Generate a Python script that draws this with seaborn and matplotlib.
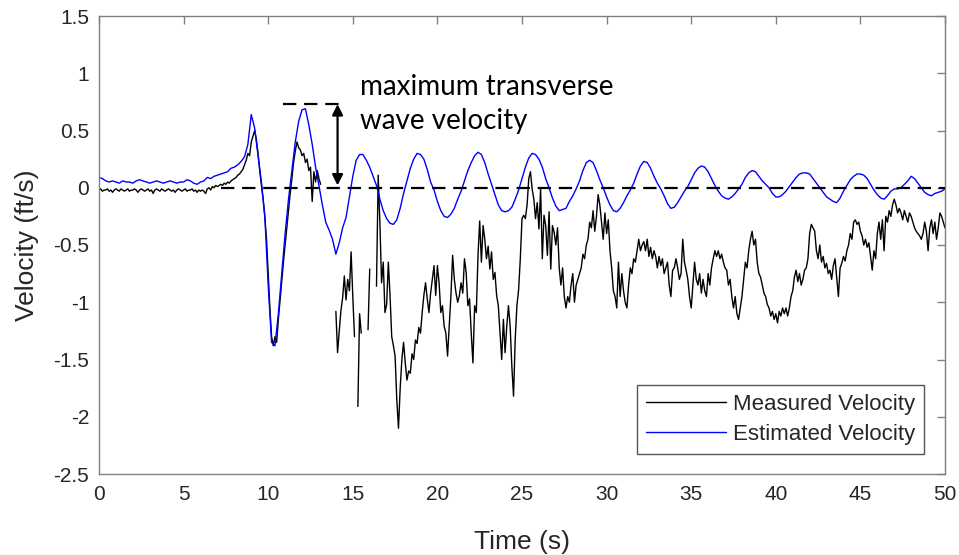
import numpy as np
import pandas as pd
import matplotlib
matplotlib.use("Agg")
import matplotlib.pyplot as plt
from matplotlib.lines import Line2D
import seaborn as sns

# ---- data -------------------------------------------------------------
# Measured velocity, sampled every 0.1 s from t = 0 to 50 s (NaN = dropout)
meas_dt = 0.1
meas_v = [
    -0.02, -0.01, -0.03, -0.02, -0.02, -0.01, -0.03, -0.02, -0.04, -0.02,
    -0.01, -0.02, -0.03, -0.01, -0.02, -0.03, -0.02, -0.01, -0.03, -0.02,
    -0.02, -0.01, -0.02, -0.04, -0.02, -0.01, -0.02, -0.03, -0.02, -0.01,
    -0.03, -0.02, -0.05, -0.02, -0.01, -0.02, -0.03, -0.01, -0.02, -0.03,
    -0.02, -0.01, -0.02, -0.03, -0.02, -0.04, -0.02, -0.01, -0.02, -0.03,
    -0.02, -0.01, -0.03, -0.02, -0.02, -0.01, -0.03, -0.02, -0.04, -0.02,
    -0.03,
    -0.02, -0.03, -0.05, -0.01, 0.00, -0.02, 0.01, 0.00, 0.02, 0.01,
    0.02, 0.03, 0.02, 0.04, 0.03, 0.05, 0.04, 0.06, 0.07, 0.08,
    0.09, 0.11, 0.12, 0.14, 0.16, 0.20, 0.24, 0.30, 0.28, 0.40,
    0.45, 0.50, 0.42, 0.30, 0.15, 0.02, -0.10, -0.25, -0.45, -0.75,
    -1.05, -1.30, -1.38, -1.30, -1.35, -1.15, -0.98, -0.80, -0.65, -0.50,
    -0.35, -0.20, -0.05, 0.08, 0.22, 0.32, 0.40, 0.35, 0.33, 0.28,
    0.30, 0.22, 0.25, 0.15, 0.18, -0.12, 0.14, 0.05, 0.15, 0.08,
    0.03,
    np.nan, np.nan, np.nan, np.nan, np.nan, np.nan, np.nan, np.nan,
    -1.08, -1.44, -1.25, -1.07, -0.96, -0.77, -0.98, -0.80, -0.90, -0.56, -0.95,
    -1.30, np.nan, -1.91, -1.10, -1.27, np.nan, np.nan, np.nan, -1.24, -0.71,
    np.nan, np.nan, np.nan, -0.86, 0.11, -0.30, -0.83, -0.65, -1.09, -1.02,
    -0.65, -0.94, -1.30, -1.38, -1.47, -1.85, -2.10, -1.75, -1.50, -1.35,
    -1.53, -1.68, -1.60, -1.62, -1.45, -1.50, -1.33, -1.36, -1.22, -1.27,
    -1.09, -0.94, -0.83, -0.97, -1.09, -0.92, -0.80, -0.68, -0.94, -0.68,
    -0.83, -1.09, -1.03, -1.21, -1.27, -1.47, -1.21, -0.94, -0.59, -0.80,
    -0.92, -1.00, -0.94, -0.83, -0.92, -0.62, -0.74, -1.03, -0.97, -1.27,
    -1.53, -1.03, -1.09, -0.59, -0.29, -0.65, -0.33, -0.45, -0.62, -0.51,
    -0.71, -0.56, -0.80, -0.74, -0.94, -1.03, -1.27, -1.50, -1.15, -1.44,
    -1.21, -1.03, -1.21, -1.56, -1.82, -1.32, -1.03, -0.89, -0.62, -0.27,
    -0.24, -0.27, -0.15, 0.08, 0.14, -0.01, -0.10, -0.27, -0.13, -0.36,
    -0.01, -0.62, -0.24, -0.33, -0.59, -0.21, -0.71, -0.33, -0.39, -0.50,
    -0.35, -0.70, -0.85, -0.70, -0.95, -1.05, -0.95, -1.00, -0.85, -0.75,
    -1.00, -0.85, -0.80, -0.75, -0.70, -0.58, -0.62, -0.50, -0.45, -0.30,
    -0.35, -0.20, -0.38, -0.25, -0.06, -0.15, -0.30, -0.45, -0.22, -0.40,
    -0.28, -0.55, -0.70, -0.90, -0.95, -1.05, -0.65, -0.95, -0.75, -0.90,
    -1.00, -1.05, -0.85, -0.70, -0.75, -0.62, -0.65, -0.55, -0.45, -0.55,
    -0.50, -0.47, -0.55, -0.45, -0.60, -0.52, -0.62, -0.55, -0.60, -0.70,
    -0.60, -0.68, -0.62, -0.75, -0.70, -0.65, -0.85, -0.95, -0.72, -0.70,
    -0.62, -0.70, -0.80, -0.75, -0.45, -0.65, -0.72, -0.80, -0.95, -1.05,
    -0.85, -0.65, -0.80, -0.85, -0.75, -0.92, -0.80, -0.90, -0.95, -0.75,
    -0.85, -0.70, -0.62, -0.55, -0.60, -0.55, -0.62, -0.58, -0.65, -0.70,
    -0.72, -0.85, -0.80, -0.95, -1.05, -0.95, -1.10, -1.15, -1.05, -0.95,
    -0.80, -0.65, -0.70, -0.55, -0.45, -0.38, -0.50, -0.45, -0.65, -0.75,
    -0.78, -0.85, -0.92, -0.95, -1.02, -1.05, -1.12, -1.08, -1.15, -1.10,
    -1.18, -1.08, -1.12, -1.05, -1.10, -1.05, -1.12, -1.05, -0.95, -0.90,
    -0.78, -0.72, -0.82, -0.75, -0.85, -0.80, -0.72, -0.70, -0.62, -0.40,
    -0.32, -0.35, -0.38, -0.55, -0.62, -0.50, -0.65, -0.60, -0.70, -0.66,
    -0.75, -0.72, -0.80, -0.68, -0.62, -0.78, -0.95, -0.70, -0.66, -0.60,
    -0.64, -0.55, -0.50, -0.40, -0.45, -0.30, -0.28, -0.32, -0.30, -0.38,
    -0.42, -0.50, -0.45, -0.52, -0.48, -0.60, -0.72, -0.55, -0.62, -0.40,
    -0.30, -0.45, -0.28, -0.55, -0.25, -0.30, -0.20, -0.25, -0.15, -0.10,
    -0.15, -0.22, -0.18, -0.22, -0.28, -0.20, -0.25, -0.30, -0.22, -0.25,
    -0.30, -0.35, -0.38, -0.40, -0.42, -0.45, -0.40, -0.30, -0.38, -0.55,
    -0.35, -0.28, -0.40, -0.30, -0.45, -0.35, -0.22, -0.25, -0.30, -0.35,
]

# Estimated velocity, sampled every 0.2 s from t = 0 to 50 s
est_dt = 0.2
est_v = [
    0.09, 0.08, 0.06, 0.05, 0.06, 0.05, 0.04, 0.06, 0.05, 0.05,
    0.04, 0.06, 0.07, 0.06, 0.05, 0.04, 0.05, 0.06, 0.05, 0.04,
    0.05, 0.06, 0.05, 0.04, 0.05, 0.05, 0.07, 0.06, 0.04, 0.03,
    0.05, 0.06, 0.09, 0.08, 0.10, 0.11, 0.12, 0.13, 0.14, 0.17,
    0.18, 0.20, 0.23, 0.27, 0.38, 0.64, 0.52, 0.28, 0.05, -0.25,
    -0.85, -1.35, -1.38, -1.10, -0.75, -0.40, -0.10, 0.15, 0.40, 0.58,
    0.68, 0.69, 0.55, 0.38, 0.18, 0.02, -0.15, -0.30, -0.37, -0.45,
    -0.58, -0.48, -0.35, -0.26, -0.08, 0.10, 0.24, 0.29, 0.29, 0.24,
    0.18, 0.10, 0.02, -0.10, -0.20, -0.27, -0.31, -0.32, -0.28, -0.18,
    -0.05, 0.06, 0.17, 0.25, 0.30, 0.29, 0.25, 0.16, 0.05, -0.02,
    -0.12, -0.20, -0.25, -0.26, -0.23, -0.18, -0.10, -0.03, 0.06, 0.15,
    0.22, 0.28, 0.31, 0.29, 0.22, 0.12, 0.03, -0.06, -0.15, -0.20,
    -0.21, -0.20, -0.17, -0.10, -0.02, 0.08, 0.18, 0.26, 0.30, 0.29,
    0.25, 0.18, 0.08, 0.00, -0.09, -0.16, -0.20, -0.19, -0.18, -0.12,
    -0.07, -0.01, 0.06, 0.15, 0.22, 0.24, 0.22, 0.15, 0.07, 0.00,
    -0.08, -0.15, -0.20, -0.21, -0.18, -0.13, -0.07, -0.02, 0.04, 0.12,
    0.19, 0.23, 0.22, 0.17, 0.10, 0.04, -0.01, -0.07, -0.14, -0.18,
    -0.17, -0.13, -0.08, -0.03, 0.01, 0.07, 0.13, 0.17, 0.19, 0.18,
    0.14, 0.08, 0.02, -0.03, -0.07, -0.09, -0.10, -0.08, -0.05, -0.01,
    0.03, 0.09, 0.13, 0.15, 0.14, 0.10, 0.06, 0.03, 0.00, -0.05,
    -0.08, -0.08, -0.06, -0.03, 0.01, 0.05, 0.09, 0.12, 0.13, 0.13,
    0.12, 0.08, 0.04, 0.00, -0.04, -0.08, -0.10, -0.12, -0.13, -0.09,
    -0.03, 0.02, 0.07, 0.10, 0.12, 0.12, 0.11, 0.08, 0.03, -0.02,
    -0.06, -0.09, -0.10, -0.07, -0.03, -0.01, -0.01, 0.00, 0.03, 0.06,
    0.10, 0.08, 0.04, 0.00, -0.04, -0.06, -0.07, -0.05, -0.04, -0.03,
    -0.01,
]

series_labels = ["Measured Velocity", "Estimated Velocity"]
series_colors = ["black", "#0000ff"]
x_ticks = [0, 5, 10, 15, 20, 25, 30, 35, 40, 45, 50]
y_ticks = [-2.5, -2, -1.5, -1, -0.5, 0, 0.5, 1, 1.5]

# reference level / annotation of the largest transverse wave velocity
zero_line_start = 7.2
max_wave_velocity = 0.73
max_marker_span = (10.86, 14.58)
arrow_time = 14.1
arrow_bottom = 0.02
note_text = "maximum transverse\nwave velocity"
note_pos = (15.45, 0.99)

# ---- frames -----------------------------------------------------------
meas = pd.DataFrame({"t": np.arange(len(meas_v)) * meas_dt, "v": meas_v})
# split the measured record into continuous pieces at the dropouts
meas["seg"] = meas["v"].isna().cumsum()
meas = meas.dropna()
est = pd.DataFrame({"t": np.arange(len(est_v)) * est_dt, "v": est_v})

# ---- figure -----------------------------------------------------------
sns.set_style("white")
plt.rcParams["font.family"] = ["Liberation Sans", "DejaVu Sans"]

fig = plt.figure(figsize=(9.59, 5.55), dpi=100)
ax = fig.add_axes([99 / 959, 1 - 474 / 555, (945 - 99) / 959, (474 - 16) / 555])

sns.lineplot(data=meas, x="t", y="v", units="seg", estimator=None,
             color=series_colors[0], lw=1.0, ax=ax, sort=False)
sns.lineplot(data=est, x="t", y="v", estimator=None,
             color=series_colors[1], lw=1.0, ax=ax, sort=False)

# dashed zero reference
ax.hlines(0, zero_line_start, 50, colors="black", linestyles=(0, (6, 3.5)),
          lw=1.6, zorder=5)
# dashed level of the peak and the double arrow
ax.hlines(max_wave_velocity, *max_marker_span, colors="black",
          linestyles=(0, (6, 3.5)), lw=1.6, zorder=5)
ax.annotate("", xy=(arrow_time, arrow_bottom),
            xytext=(arrow_time, max_wave_velocity),
            arrowprops=dict(arrowstyle="<|-|>", color="black", lw=1.6,
                            mutation_scale=16, shrinkA=0, shrinkB=0),
            zorder=6)
ax.text(*note_pos, note_text, fontsize=20, family=["Lato", "DejaVu Sans"],
        va="top", ha="left", linespacing=1.38, color="black")

ax.set_xlim(0, 50)
ax.set_ylim(-2.5, 1.5)
ax.set_xticks(x_ticks)
ax.set_xticklabels([f"{t:g}" for t in x_ticks])
ax.set_yticks(y_ticks)
ax.set_yticklabels([f"{t:g}" for t in y_ticks])
ax.set_xlabel("Time (s)", fontsize=19, color="#262626", labelpad=19)
ax.set_ylabel("Velocity (ft/s)", fontsize=19, color="#262626", labelpad=10)

spine_c = "#808080"
for s in ax.spines.values():
    s.set_visible(True)
    s.set_color(spine_c)
    s.set_linewidth(1.0)
ax.tick_params(direction="in", length=6, width=1.0, color=spine_c,
               labelcolor="#262626", labelsize=15, top=True, right=True,
               pad=8)
ax.tick_params(axis="y", pad=7)

handles = [Line2D([], [], color=c, lw=1.0) for c in series_colors]
leg = ax.legend(handles, series_labels, loc="lower right",
                bbox_to_anchor=(0.975, 0.0437), borderaxespad=0,
                fontsize=16, handlelength=3.6, handletextpad=0.3,
                labelspacing=0.42, borderpad=0.4, fancybox=False,
                framealpha=1, edgecolor="#555555")
leg.get_frame().set_linewidth(1.0)

fig.savefig("out.png", dpi=100, facecolor="white")
